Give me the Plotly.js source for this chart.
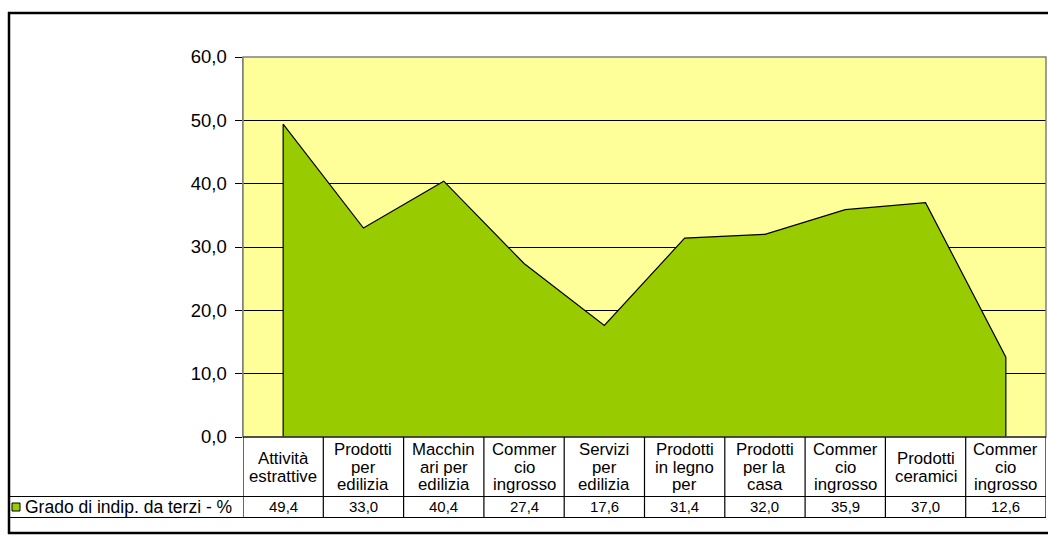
<!DOCTYPE html>
<html>
<head>
<meta charset="utf-8">
<script src="https://cdn.plot.ly/plotly-3.0.1.min.js"></script>
<style>html,body{margin:0;padding:0;background:#fff;overflow:hidden;}#chart{width:1048px;height:536px;}</style>
</head>
<body>
<div id="chart"></div>
<script>
// ---- data ----
const categories = [
  "Attività\nestrattive",
  "Prodotti\nper\nedilizia",
  "Macchin\nari per\nedilizia",
  "Commer\ncio\ningrosso",
  "Servizi\nper\nedilizia",
  "Prodotti\nin legno\nper",
  "Prodotti\nper la\ncasa",
  "Commer\ncio\ningrosso",
  "Prodotti\nceramici",
  "Commer\ncio\ningrosso"
];
const values = [49.4, 33.0, 40.4, 27.4, 17.6, 31.4, 32.0, 35.9, 37.0, 12.6];
const seriesName = "Grado di indip. da terzi - %";
const yTicks = [0, 10, 20, 30, 40, 50, 60];

// ---- layout geometry (pixels) ----
const W = 1048, H = 536;
const L = 243, R = 1046, T = 57, B = 437;
const PW = R - L, PH = B - T;
const px = p => (p - L) / PW;
const py = p => (B - p) / PH;
const FONT = "Arial, 'Liberation Sans', sans-serif";
const fmt = v => v.toFixed(1).replace('.', ',');

const idx = categories.map((_, i) => i);
const polyX = [idx[0]].concat(idx, [idx[idx.length - 1]]);
const polyY = [0].concat(values, [0]);

const traces = [{
  type: 'scatter', mode: 'lines',
  x: polyX, y: polyY,
  fill: 'toself', fillcolor: '#99CC00',
  line: {color: '#000000', width: 1.2},
  name: seriesName, hoverinfo: 'skip', showlegend: false
}];

const shapes = [];
const annotations = [];

// plot area border (gray)
shapes.push({type: 'rect', xref: 'paper', yref: 'paper', x0: 0, x1: 1, y0: 0, y1: 1,
  line: {color: '#808080', width: 1.5}, layer: 'above'});
// outer chart border: top, left, bottom (right edge lies outside the picture)
const ob = {color: '#000000', width: 2.5};
shapes.push({type: 'line', xref: 'paper', yref: 'paper', x0: px(8), x1: px(1048), y0: py(13), y1: py(13), line: ob, layer: 'above'});
shapes.push({type: 'line', xref: 'paper', yref: 'paper', x0: px(8), x1: px(1048), y0: py(533), y1: py(533), line: ob, layer: 'above'});
shapes.push({type: 'line', xref: 'paper', yref: 'paper', x0: px(9), x1: px(9), y0: py(12), y1: py(534), line: ob, layer: 'above'});

// table geometry
const headBottom = 496.5, rowBottom = 517.5, tableLeft = 8;
shapes.push({type: 'line', xref: 'paper', yref: 'paper', x0: 0, x1: 1, y0: 0, y1: 0, line: {color: '#000', width: 1.2}, layer: 'above'});
shapes.push({type: 'line', xref: 'paper', yref: 'paper', x0: px(tableLeft), x1: 1, y0: py(headBottom), y1: py(headBottom), line: {color: '#000', width: 1.2}, layer: 'above'});
shapes.push({type: 'line', xref: 'paper', yref: 'paper', x0: px(tableLeft), x1: 1, y0: py(rowBottom), y1: py(rowBottom), line: {color: '#000', width: 1.2}, layer: 'above'});
for (let i = 0; i <= categories.length; i++) {
  shapes.push({type: 'line', xref: 'x', yref: 'paper', x0: i - 0.5, x1: i - 0.5, y0: py(rowBottom), y1: 0,
    line: {color: '#000', width: 1.2}, layer: 'above'});
}

// header labels (line by line)
const lineGap = 17.5;
const headCenter = (B + headBottom) / 2 + 0.5;
categories.forEach((c, i) => {
  const lines = c.split('\n');
  lines.forEach((ln, k) => {
    const yc = headCenter + (k - (lines.length - 1) / 2) * lineGap;
    annotations.push({xref: 'x', yref: 'paper', x: i, y: py(yc), text: ln, showarrow: false,
      xanchor: 'center', yanchor: 'middle', font: {family: FONT, size: 16.8, color: '#000'}});
  });
  annotations.push({xref: 'x', yref: 'paper', x: i, y: py((headBottom + rowBottom) / 2), text: fmt(values[i]), showarrow: false,
    xanchor: 'center', yanchor: 'middle', font: {family: FONT, size: 15, color: '#000'}});
});

// legend key + label
shapes.push({type: 'rect', xref: 'paper', yref: 'paper', x0: px(12), x1: px(20), y0: py(511), y1: py(503),
  fillcolor: '#99CC00', line: {color: '#000', width: 1}, layer: 'above'});
annotations.push({xref: 'paper', yref: 'paper', x: px(23), y: py((headBottom + rowBottom) / 2), text: seriesName,
  showarrow: false, xanchor: 'left', yanchor: 'middle', font: {family: FONT, size: 17.5, color: '#000'}});

const layout = {
  width: W, height: H,
  margin: {l: L, r: W - R, t: T, b: H - B, pad: 0},
  paper_bgcolor: '#ffffff', plot_bgcolor: '#FFFF99',
  separators: ',.',
  showlegend: false,
  xaxis: {range: [-0.5, categories.length - 0.5], showgrid: false, zeroline: false, showticklabels: false, ticks: '', fixedrange: true},
  yaxis: {range: [0, 60], tickvals: yTicks, tickformat: '.1f', ticks: 'outside', ticklen: 7, tickcolor: '#000', tickwidth: 1,
    ticklabelstandoff: 4,
    showgrid: true, gridcolor: '#000000', gridwidth: 1, zeroline: false, showline: true, linecolor: '#808080', linewidth: 1.5,
    tickfont: {family: FONT, size: 18.5, color: '#000'}, fixedrange: true},
  shapes: shapes, annotations: annotations
};

Plotly.newPlot('chart', traces, layout, {displayModeBar: false, staticPlot: true});
</script>
</body>
</html>
